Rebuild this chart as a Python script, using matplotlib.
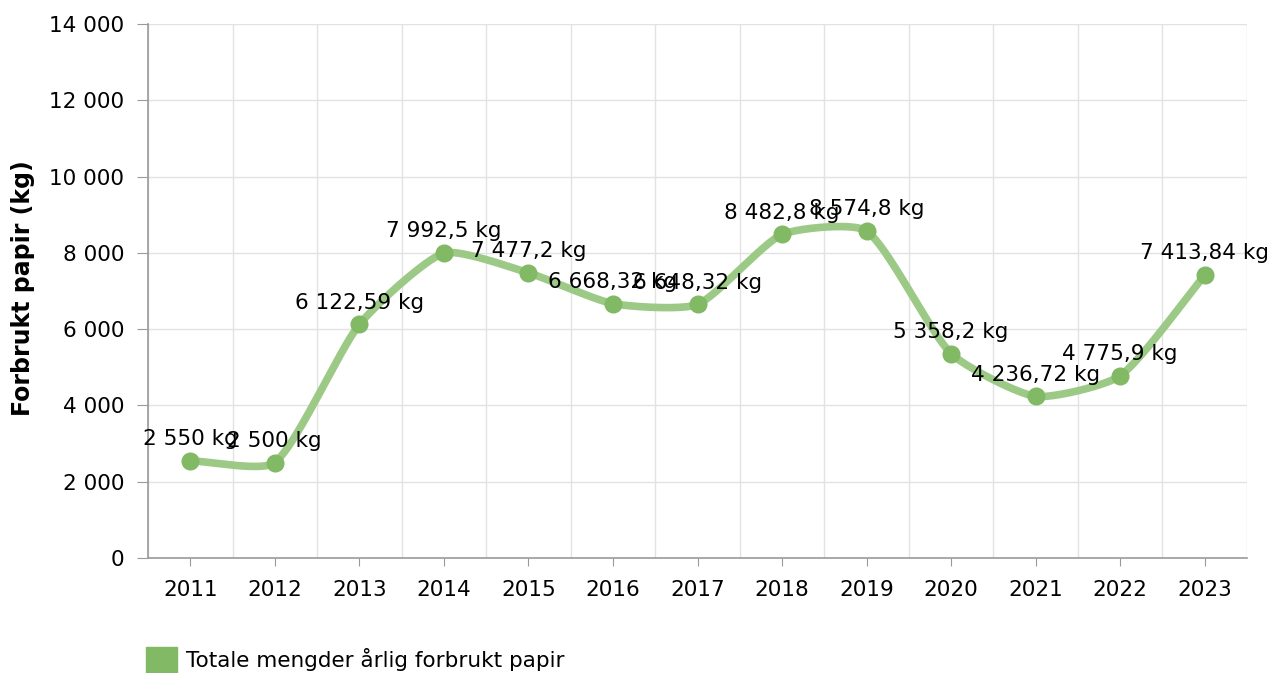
import matplotlib
matplotlib.use("Agg")
import matplotlib.pyplot as plt
from matplotlib.patches import Patch
from matplotlib.ticker import FuncFormatter
import numpy as np

years = ["2011", "2012", "2013", "2014", "2015", "2016", "2017",
         "2018", "2019", "2020", "2021", "2022", "2023"]
paper_kg = [2550, 2500, 6122.59, 7992.5, 7477.2, 6668.32, 6648.32,
            8482.8, 8574.8, 5358.2, 4236.72, 4775.9, 7413.84]
point_labels = ["2 550 kg", "2 500 kg", "6 122,59 kg", "7 992,5 kg", "7 477,2 kg",
                "6 668,32 kg", "6 648,32 kg", "8 482,8 kg", "8 574,8 kg",
                "5 358,2 kg", "4 236,72 kg", "4 775,9 kg", "7 413,84 kg"]
series_name = "Totale mengder årlig forbrukt papir"

LINE = "#9cca86"
MARK = "#82b964"
GRID = "#e2e2e2"
AXIS = "#9a9a9a"
FS = 15.5


def spline_path(ax, x, y, tension=0.2, n=40):
    # bezier spline through the points, control points worked out in pixel space
    pts = ax.transData.transform(np.column_stack([x, y]))
    k = len(pts)
    cp_prev = np.zeros_like(pts)
    cp_next = np.zeros_like(pts)
    for i in range(k):
        prev = pts[max(i - 1, 0)]
        cur = pts[i]
        nxt = pts[min(i + 1, k - 1)]
        d01 = np.hypot(*(cur - prev))
        d12 = np.hypot(*(nxt - cur))
        tot = d01 + d12
        s01 = d01 / tot if tot else 0
        s12 = d12 / tot if tot else 0
        cp_prev[i] = cur - tension * s01 * (nxt - prev)
        cp_next[i] = cur + tension * s12 * (nxt - prev)
    t = np.linspace(0, 1, n)[:, None]
    segs = []
    for i in range(k - 1):
        p0, p1, p2, p3 = pts[i], cp_next[i], cp_prev[i + 1], pts[i + 1]
        segs.append((1 - t)**3 * p0 + 3 * (1 - t)**2 * t * p1
                    + 3 * (1 - t) * t**2 * p2 + t**3 * p3)
    path = np.vstack(segs)
    return ax.transData.inverted().transform(path)


plt.rcParams['font.family'] = ['DejaVu Sans']

fig = plt.figure(figsize=(12.72, 6.73), dpi=100)
ax = fig.add_axes([148 / 1272, 1 - 558 / 673, (1247 - 148) / 1272, (558 - 24) / 673])

xpos = np.arange(len(years))
ax.set_xlim(-0.5, len(years) - 0.5)
ax.set_ylim(0, 14000)

curve = spline_path(ax, xpos, paper_kg)
ax.plot(curve[:, 0], curve[:, 1], color=LINE, lw=5.5, solid_capstyle="round", zorder=3)
ax.plot(xpos, paper_kg, "o", color=MARK, ms=12, zorder=4)

for x, y, lab in zip(xpos, paper_kg, point_labels):
    ax.annotate(lab, (x, y), xytext=(0, 8.5), textcoords="offset points",
                ha="center", va="bottom", fontsize=FS, color="black",
                zorder=5, annotation_clip=False)

ax.set_xticks(xpos)
ax.set_xticklabels(years)
ax.set_xticks(np.arange(-0.5, len(years), 1.0), minor=True)
ax.set_yticks(np.arange(0, 14001, 2000))
ax.yaxis.set_major_formatter(FuncFormatter(lambda v, p: f"{int(v):,}".replace(",", " ")))

ax.grid(False)
ax.xaxis.grid(True, which="minor", color=GRID, lw=1)
ax.yaxis.grid(True, which="major", color=GRID, lw=1)
ax.set_axisbelow(True)

for s in ["top", "right"]:
    ax.spines[s].set_visible(False)
for s in ["left", "bottom"]:
    ax.spines[s].set_color(AXIS)
    ax.spines[s].set_linewidth(1.2)

ax.tick_params(axis="x", which="major", length=6, color=AXIS, labelsize=FS, pad=10)
ax.tick_params(axis="x", which="minor", length=0)
ax.tick_params(axis="y", length=8, color=AXIS, labelsize=FS, pad=9)

fig.text(23 / 1272, 1 - 288 / 673, "Forbrukt papir (kg)", rotation=90,
         ha="center", va="center", fontsize=17, fontweight="bold")

fig.legend(handles=[Patch(color=MARK, label=series_name)], loc="center left",
           bbox_to_anchor=(146 / 1272, 1 - 660 / 673), frameon=False,
           fontsize=FS, handlelength=1.45, handleheight=1.45, handletextpad=0.4,
           borderpad=0, borderaxespad=0)

fig.savefig("out.png", dpi=100)
